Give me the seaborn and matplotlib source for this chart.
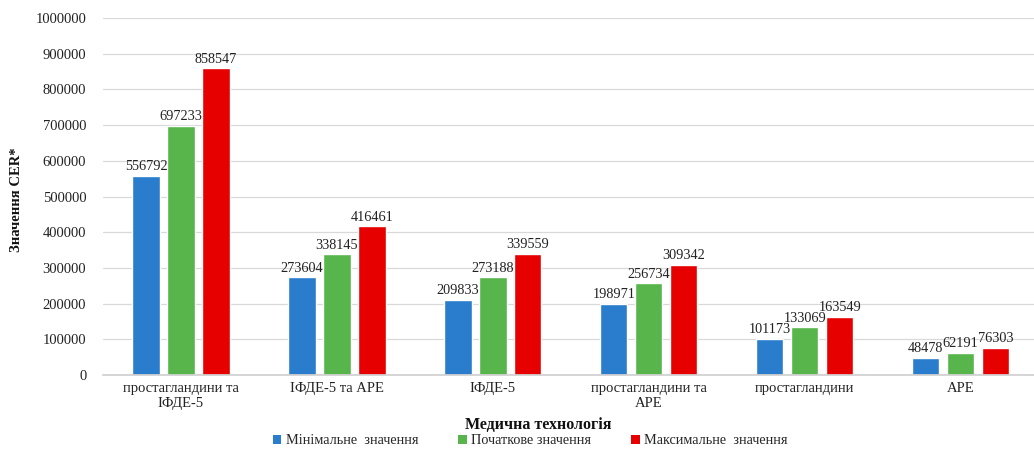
import matplotlib
matplotlib.use("Agg")
import matplotlib.pyplot as plt
import seaborn as sns
import pandas as pd
from matplotlib.patches import Patch

technologies = [
    "простагландини та\nІФДЕ-5",
    "ІФДЕ-5 та АРЕ",
    "ІФДЕ-5",
    "простагландини та\nАРЕ",
    "простагландини",
    "АРЕ",
]
series_names = ["Мінімальне  значення", "Початкове значення", "Максимальне  значення"]
min_values = [556792, 273604, 209833, 198971, 101173, 48478]
base_values = [697233, 338145, 273188, 256734, 133069, 62191]
max_values = [858547, 416461, 339559, 309342, 163549, 76303]
colors = ["#2A7DCD", "#58B54C", "#E60000"]

y_ticks = list(range(0, 1000001, 100000))

rows = []
for name, vals in zip(series_names, [min_values, base_values, max_values]):
    for tech, v in zip(technologies, vals):
        rows.append({"tech": tech, "series": name, "value": v})
df = pd.DataFrame(rows)

sns.set_theme(style="white")
plt.rcParams["font.family"] = ["Liberation Serif", "DejaVu Serif"]

fig = plt.figure(figsize=(10.34, 4.49), dpi=100)
ax = fig.add_axes([103 / 1034, 74 / 449, 1 - 103 / 1034, 357 / 449])

sns.barplot(
    data=df, x="tech", y="value", hue="series",
    order=technologies, hue_order=series_names, palette=colors,
    width=0.673, gap=0.22, saturation=1, legend=False, ax=ax,
)

for cont in ax.containers:
    ax.bar_label(cont, fmt="%d", fontsize=10.3, padding=2, color="#222222")

ax.set_ylim(0, 1000000)
ax.set_xlim(-0.5, 5.47)
ax.set_yticks(y_ticks)
ax.set_yticklabels([str(t) for t in y_ticks], fontsize=10.5, color="#222222")
ax.tick_params(axis="x", labelsize=10.5, colors="#222222", length=0, pad=5)
ax.tick_params(axis="y", length=0, pad=12)
ax.yaxis.grid(True, color="#d9d9d9", linewidth=0.9)
ax.set_axisbelow(True)
for side in ["top", "right", "left"]:
    ax.spines[side].set_visible(False)
ax.spines["bottom"].set_color("#d0d0d0")
ax.set_xlabel("")
ax.set_ylabel("")

fig.text(17 / 1034, 1 - 200 / 449, "Значення CER*", rotation=90, ha="center", va="center",
         fontsize=10.5, fontweight="bold", color="#111111")
fig.text(538 / 1034, 1 - 425 / 449, "Медична технологія", ha="center", va="center",
         fontsize=11.5, fontweight="bold", color="#111111")

handles = [Patch(facecolor=c, edgecolor="none") for c in colors]
fig.legend(handles, series_names, loc="center", bbox_to_anchor=(530 / 1034, 1 - 441 / 449),
           ncol=3, frameon=False, fontsize=10.3, handlelength=0.6, handleheight=0.6,
           handletextpad=0.3, columnspacing=2.8, borderaxespad=0)

fig.savefig("out.png", dpi=100)
